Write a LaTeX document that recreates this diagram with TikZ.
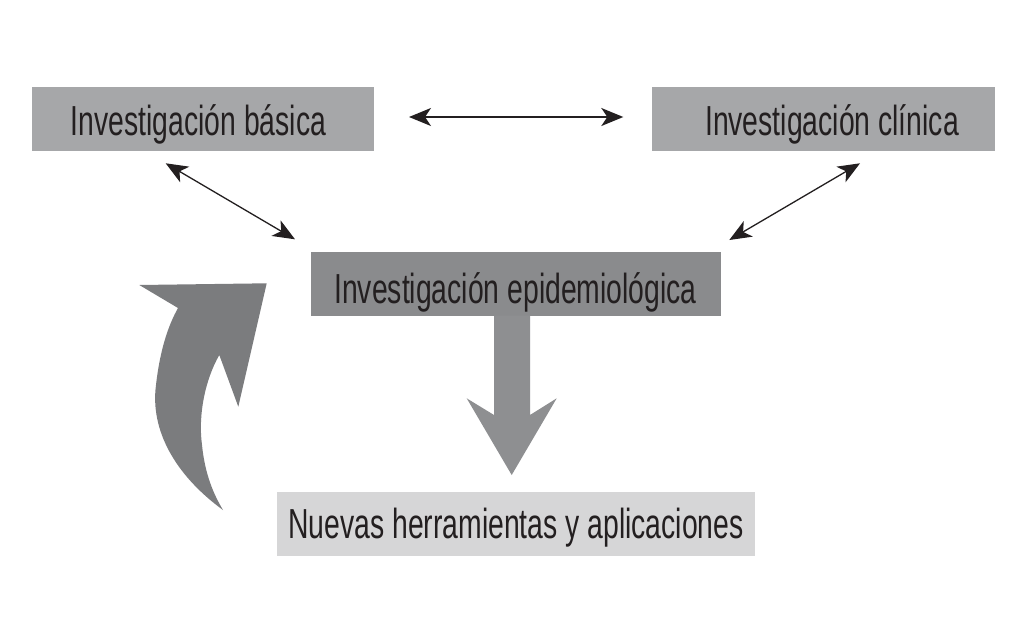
\documentclass[tikz,border=0pt]{standalone}
\usepackage{fontspec}
\setmainfont[FakeStretch=0.675]{Liberation Sans}
\usetikzlibrary{arrows.meta}
\definecolor{boxA}{HTML}{A6A7A9}
\definecolor{boxB}{HTML}{8A8B8D}
\definecolor{boxC}{HTML}{D6D6D7}
\definecolor{downC}{HTML}{8E8F91}
\definecolor{curveC}{HTML}{7B7C7E}
\definecolor{inkC}{HTML}{231F20}
\begin{document}
\begin{tikzpicture}[x=1pt,y=-1pt,
  panel/.style={draw=none,inner sep=0pt,outer sep=0pt},
  txt/.style={inner sep=0pt,anchor=base,text=inkC,font=\fontsize{42}{50}\selectfont},
  dbl/.style={draw=inkC,line width=1.3pt,{Stealth[length=22pt,width=18pt,inset=6pt]}-{Stealth[length=22pt,width=18pt,inset=6pt]}}
]
\useasboundingbox[fill=white] (0,0) rectangle (1025,616);
% boxes
\node[panel,fill=boxA,minimum width=341.7pt,minimum height=64pt] (basica) at (203.2,118.7) {};
\node[panel,fill=boxA,minimum width=343pt,minimum height=63.4pt] (clinica) at (823.5,119) {};
\node[panel,fill=boxB,minimum width=409.7pt,minimum height=64.3pt] (epid) at (515.8,283.9) {};
\node[panel,fill=boxC,minimum width=477.7pt,minimum height=64pt] (nuevas) at (516.2,523.7) {};
% texts
\node[txt] (basicaT) at (198.5,135.5) {Investigación básica};
\node[txt] (clinicaT) at (832,135.5) {Investigación clínica};
\node[txt] (epidT) at (515.5,303.3) {Investigación epidemiológica};
\node[txt] (nuevasT) at (516,538.3) {Nuevas herramientas y aplicaciones};
% thin double arrows
\coordinate (h1) at (409,117);
\coordinate (h2) at (623.3,117);
\coordinate (l1) at (165.7,163.3);
\coordinate (l2) at (295,239.3);
\coordinate (r1) at (860,163.3);
\coordinate (r2) at (729.3,240);
\draw[dbl,line width=1.8pt] (h1) -- (h2);
\draw[dbl] (l1) -- (l2);
\draw[dbl] (r1) -- (r2);
% big down arrow
\fill[downC] (494,315.5) -- (530,315.5) -- (530,415) -- (556.7,398.3) -- (511.7,475) -- (466.7,398.3) -- (494,415) -- cycle;
% curved arrow
\fill[curveC] (223,510)
  .. controls (175,475) and (150,430) .. (156,385)
  .. controls (160,350) and (168,326) .. (178,308)
  -- (139.3,285) -- (266.7,283.3) -- (238.3,406.7) -- (219.3,355)
  .. controls (205,380) and (198,415) .. (202,445)
  .. controls (205,475) and (214,495) .. (223,510) -- cycle;
\end{tikzpicture}
\end{document}
